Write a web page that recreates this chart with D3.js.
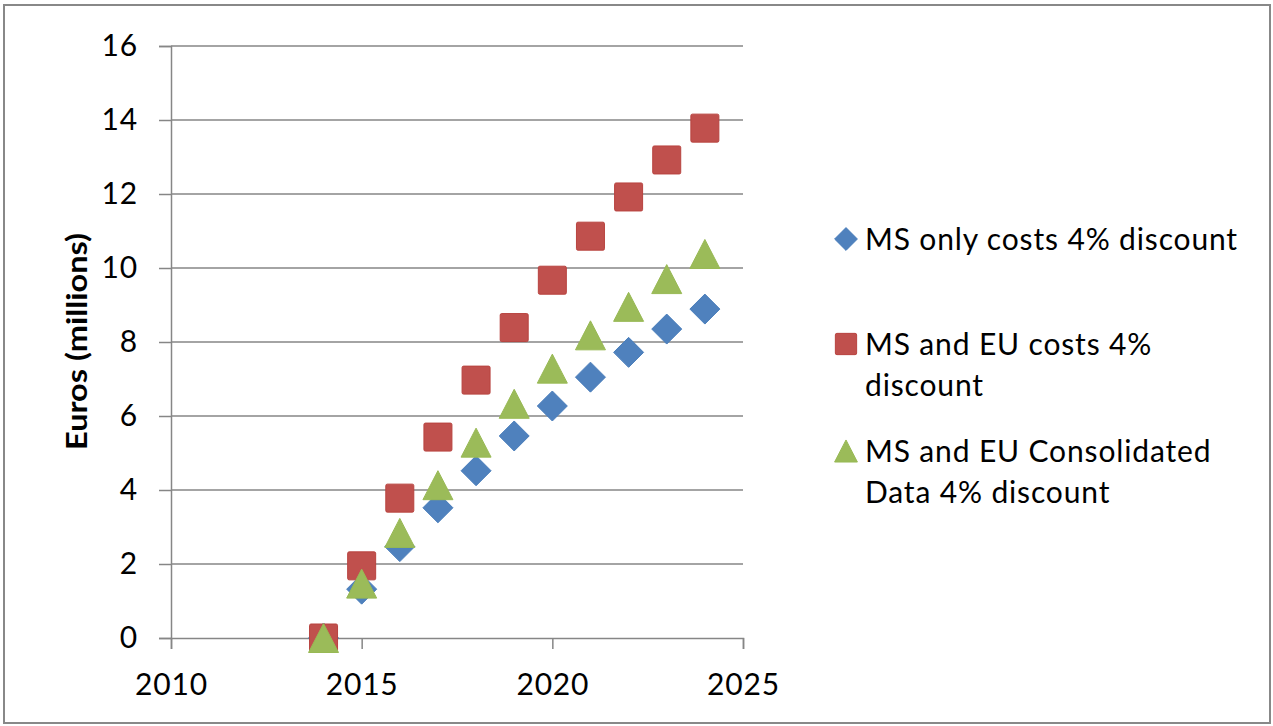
<!DOCTYPE html>
<html><head><meta charset="utf-8">
<script src="https://cdn.jsdelivr.net/npm/d3@7"></script>
<style>body{margin:0;background:#fff}svg{display:block}</style>
</head><body>
<svg id="c" width="1273" height="726"></svg>
<script>
const years = [2014,2015,2016,2017,2018,2019,2020,2021,2022,2023,2024];
const msOnly = [0,1.32,2.47,3.52,4.52,5.46,6.27,7.05,7.72,8.35,8.89];
const msEu = [0,1.95,3.78,5.43,6.97,8.39,9.67,10.86,11.92,12.92,13.78];
const msEuCons = [0,1.47,2.84,4.13,5.28,6.33,7.28,8.18,8.95,9.70,10.38];
const xTicks = [2010,2015,2020,2025];
const yTicks = [0,2,4,6,8,10,12,14,16];
const seriesNames = ["MS only costs 4% discount","MS and EU costs 4% discount","MS and EU Consolidated Data 4% discount"];
const legendLines = [["MS only costs 4% discount"],["MS and EU costs 4%","discount"],["MS and EU Consolidated","Data 4% discount"]];
const colors = ["#4F81BD","#C0504D","#9BBB59"];
const strokes = ["#4A7EBB","#B8433F","#98B954"];

const svg = d3.select("#c");
const font = "Lato, 'Open Sans', sans-serif";
svg.append("rect").attr("x",4).attr("y",5).attr("width",1266).attr("height",718)
  .attr("fill","#fff").attr("stroke","#888").attr("stroke-width",2);

const x = d3.scaleLinear().domain([2010,2025]).range([171,743]);
const y = d3.scaleLinear().domain([0,16]).range([638,46]);
const grid = "#868686";

svg.append("g").selectAll("line").data(yTicks.filter(d=>d>0)).join("line")
  .attr("x1",x(2010)).attr("x2",x(2025)).attr("y1",d=>y(d)).attr("y2",d=>y(d))
  .attr("stroke",grid).attr("stroke-width",1.5);

const yAxis = svg.append("g").attr("transform",`translate(${x(2010)},0)`)
  .call(d3.axisLeft(y).tickValues(yTicks).tickSize(12).tickPadding(21).tickFormat(d3.format("d")));
const xAxis = svg.append("g").attr("transform",`translate(0,${y(0)})`)
  .call(d3.axisBottom(x).tickValues(xTicks).tickSize(11).tickPadding(25).tickFormat(d3.format("d")));
[yAxis,xAxis].forEach(a=>{
  a.select(".domain").attr("stroke",grid).attr("stroke-width",1.5);
  a.selectAll(".tick line").attr("stroke",grid).attr("stroke-width",1.5);
  a.selectAll("text").attr("fill","#000").style("font-family",font).style("font-size","30px")
    .style("letter-spacing","0.8px");
});

svg.append("text").attr("transform",`translate(87,${(233+450)/2}) rotate(-90)`)
  .attr("text-anchor","middle").style("font-family",font).style("font-size","28px")
  .style("font-weight","bold").attr("textLength",217).attr("lengthAdjust","spacingAndGlyphs")
  .text("Euros (millions)");

function marker(g, i, cx, cy, k){
  k = k || 1;
  if(i===0){
    const h=15*k;
    g.append("path").attr("d",`M${cx},${cy-h}L${cx+h},${cy}L${cx},${cy+h}L${cx-h},${cy}Z`)
      .attr("fill",colors[0]).attr("stroke",strokes[0]).attr("stroke-width",1);
  } else if(i===1){
    const s=14*k;
    g.append("rect").attr("x",cx-s).attr("y",cy-s).attr("width",2*s).attr("height",2*s).attr("rx",1.5)
      .attr("fill",colors[1]).attr("stroke",strokes[1]).attr("stroke-width",1);
  } else {
    const w=15*k, h=29*k;
    g.append("path").attr("d",`M${cx},${cy-h/2}L${cx+w},${cy+h/2}L${cx-w},${cy+h/2}Z`)
      .attr("fill",colors[2]).attr("stroke",strokes[2]).attr("stroke-width",1);
  }
}
const data = [msOnly, msEu, msEuCons];
data.forEach((vals,i)=>{
  const g = svg.append("g");
  years.forEach((yr,j)=>marker(g,i,x(yr),y(vals[j])));
});

const legY = [239, 344, 451];
legendLines.forEach((lines,i)=>{
  const g = svg.append("g");
  marker(g,i,846,legY[i],0.76);
  lines.forEach((t,k)=>{
    g.append("text").attr("x",865).attr("y",legY[i]+k*41).attr("dy","0.35em")
      .style("font-family",font).style("font-size","30px").style("letter-spacing","0.85px")
      .attr("fill","#000").text(t);
  });
});
</script>
</body></html>
